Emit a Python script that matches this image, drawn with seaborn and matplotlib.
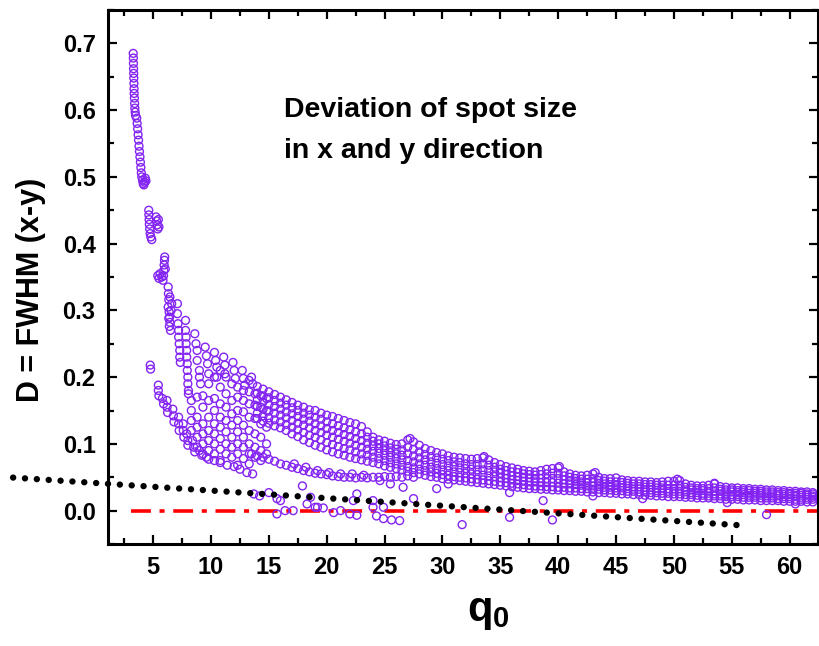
import numpy as np
import pandas as pd
import matplotlib
matplotlib.use('Agg')
import matplotlib.pyplot as plt
import seaborn as sns

# steep branch at small q0 (stepped clusters)
steep_x = [3.28, 3.29, 3.30, 3.31, 3.32, 3.33, 3.34, 3.35, 3.36, 3.38, 3.40, 3.42, 3.45, 3.48,
           3.58, 3.62, 3.66, 3.70, 3.74, 3.78, 3.82, 3.86, 3.90, 3.94, 3.98, 4.02, 4.08, 4.14, 4.20, 4.26, 4.32, 4.38,
           4.62, 4.63, 4.65, 4.67, 4.70, 4.74, 4.80, 4.88, 5.25, 5.30, 5.35, 5.40, 5.45, 5.50,
           5.40, 5.50, 5.60, 5.75, 5.85, 5.90, 5.92, 5.95, 5.98, 6.00, 6.05,
           6.30, 6.32, 6.35, 6.30, 6.38, 6.42, 6.45, 6.40, 6.50, 6.55, 6.60, 6.35, 6.45,
           7.10, 7.10, 7.15, 7.20, 7.20, 7.25, 7.30, 7.30, 7.35,
           7.80, 7.80, 7.85, 7.85, 7.90, 7.90, 7.95, 7.95, 8.00, 8.00, 8.05, 8.05]
steep_y = [0.685, 0.678, 0.670, 0.662, 0.655, 0.648, 0.640, 0.632, 0.625, 0.618, 0.610, 0.603, 0.597, 0.592,
           0.588, 0.580, 0.572, 0.563, 0.555, 0.546, 0.538, 0.530, 0.522, 0.514, 0.506, 0.500, 0.495, 0.490, 0.488, 0.492, 0.498, 0.494,
           0.450, 0.443, 0.436, 0.429, 0.422, 0.415, 0.410, 0.406, 0.440, 0.434, 0.428, 0.422, 0.436, 0.425,
           0.352, 0.348, 0.355, 0.350, 0.345, 0.352, 0.360, 0.368, 0.375, 0.380, 0.362,
           0.335, 0.325, 0.316, 0.305, 0.298, 0.290, 0.282, 0.276, 0.270, 0.300, 0.310, 0.288, 0.320,
           0.310, 0.295, 0.280, 0.270, 0.260, 0.250, 0.240, 0.230, 0.222,
           0.285, 0.270, 0.260, 0.250, 0.240, 0.230, 0.220, 0.210, 0.200, 0.190, 0.180, 0.175]

# upper envelope 8.5 < q0 < 14
upper_x = [8.6, 8.7, 8.8, 8.8, 9.0, 9.0, 9.1, 9.5, 9.6, 9.7, 9.8, 10.3, 10.4, 10.5, 10.5,
           11.1, 11.2, 11.2, 11.9, 12.0, 12.1, 12.7, 12.8, 12.9, 13.3, 13.5, 13.6]
upper_y = [0.265, 0.250, 0.240, 0.225, 0.210, 0.200, 0.190, 0.245, 0.232, 0.220, 0.205, 0.237, 0.225, 0.215, 0.200,
           0.230, 0.218, 0.205, 0.222, 0.210, 0.198, 0.210, 0.198, 0.188, 0.195, 0.200, 0.190]

# lower branch starting near q0 = 4.7
lowbr_x = [4.75, 4.78, 5.45, 5.45, 5.50, 5.80, 5.90, 6.20, 6.20, 6.25, 6.70, 6.75, 6.80, 7.20, 7.20, 7.25,
           7.60, 7.60, 7.65, 7.90, 8.00, 8.00, 8.40, 8.50, 8.60, 9.00, 9.20, 9.60, 9.80, 10.3, 10.8,
           11.4, 12.0, 12.5, 13.1, 13.6]
lowbr_y = [0.218, 0.212, 0.188, 0.180, 0.172, 0.168, 0.160, 0.165, 0.155, 0.147, 0.152, 0.142, 0.133, 0.140, 0.130, 0.120,
           0.130, 0.120, 0.110, 0.115, 0.105, 0.098, 0.105, 0.095, 0.088, 0.090, 0.083, 0.080, 0.077, 0.075, 0.072,
           0.068, 0.066, 0.062, 0.057, 0.055]

# filled middle region 8 < q0 < 15
mid_cols_x = [8.3, 8.8, 9.3, 9.8, 10.3, 10.8, 11.3, 11.8, 12.3, 12.8, 13.3, 13.8, 14.3, 14.8]
mid_cols_y = [[0.165, 0.150, 0.135, 0.120],
              [0.170, 0.140, 0.125, 0.110, 0.095],
              [0.172, 0.155, 0.130, 0.115, 0.100, 0.085],
              [0.190, 0.165, 0.140, 0.120, 0.105, 0.090],
              [0.200, 0.168, 0.150, 0.130, 0.115, 0.100, 0.085],
              [0.210, 0.185, 0.160, 0.140, 0.125, 0.108, 0.092, 0.075],
              [0.200, 0.175, 0.155, 0.135, 0.118, 0.100, 0.085],
              [0.190, 0.165, 0.145, 0.128, 0.110, 0.095, 0.080],
              [0.185, 0.170, 0.150, 0.135, 0.118, 0.100, 0.085, 0.068],
              [0.180, 0.165, 0.148, 0.128, 0.110, 0.095, 0.078],
              [0.178, 0.160, 0.140, 0.120, 0.100, 0.085, 0.070],
              [0.175, 0.158, 0.138, 0.115, 0.095, 0.080],
              [0.172, 0.155, 0.130, 0.110, 0.090, 0.075],
              [0.168, 0.150, 0.125, 0.100, 0.085]]

# main band q0 >= 14
band_x = [14.0, 14.5, 15.0, 15.5, 16.0, 16.5, 17.0, 17.5, 18.0, 18.5, 19.0, 19.5, 20.0, 20.5,
          21.0, 21.5, 22.0, 22.5, 23.0, 23.5, 24.0, 24.5, 25.0, 25.5, 26.0, 26.5, 27.0, 27.5,
          28.0, 28.5, 29.0, 29.5, 30.0, 30.5, 31.0, 31.5, 32.0, 32.5, 33.0, 33.5, 34.0, 34.5,
          35.0, 35.5, 36.0, 36.5, 37.0, 37.5, 38.0, 38.5, 39.0, 39.5, 40.0, 40.5, 41.0, 41.5,
          42.0, 42.5, 43.0, 43.5, 44.0, 44.5, 45.0, 45.5, 46.0, 46.5, 47.0, 47.5, 48.0, 48.5,
          49.0, 49.5, 50.0, 50.5, 51.0, 51.5, 52.0, 52.5, 53.0, 53.5, 54.0, 54.5, 55.0, 55.5,
          56.0, 56.5, 57.0, 57.5, 58.0, 58.5, 59.0, 59.5, 60.0, 60.5, 61.0, 61.5, 62.0]
band_y = [[0.186, 0.176, 0.166, 0.156, 0.146, 0.138],
          [0.182, 0.172, 0.163, 0.152, 0.142, 0.134],
          [0.178, 0.169, 0.159, 0.149, 0.139, 0.131],
          [0.174, 0.165, 0.156, 0.146, 0.136, 0.127],
          [0.170, 0.161, 0.152, 0.143, 0.133, 0.124],
          [0.166, 0.158, 0.148, 0.139, 0.129, 0.120],
          [0.162, 0.154, 0.145, 0.135, 0.125, 0.115],
          [0.158, 0.150, 0.141, 0.131, 0.121, 0.111],
          [0.155, 0.146, 0.137, 0.128, 0.117, 0.106],
          [0.151, 0.143, 0.134, 0.124, 0.113, 0.102],
          [0.150, 0.140, 0.130, 0.120, 0.110, 0.098],
          [0.146, 0.137, 0.127, 0.117, 0.106, 0.095],
          [0.143, 0.133, 0.123, 0.113, 0.102, 0.091],
          [0.141, 0.130, 0.120, 0.110, 0.099, 0.088],
          [0.138, 0.127, 0.117, 0.107, 0.096, 0.085],
          [0.135, 0.124, 0.114, 0.104, 0.093, 0.083],
          [0.132, 0.121, 0.111, 0.101, 0.091, 0.080],
          [0.130, 0.118, 0.108, 0.098, 0.088, 0.078],
          [0.126, 0.115, 0.105, 0.095, 0.085, 0.076],
          [0.118, 0.110, 0.101, 0.092, 0.083, 0.074],
          [0.110, 0.104, 0.097, 0.089, 0.080, 0.072],
          [0.106, 0.100, 0.093, 0.086, 0.078, 0.070],
          [0.104, 0.097, 0.090, 0.083, 0.075, 0.067],
          [0.101, 0.094, 0.087, 0.080, 0.072, 0.065],
          [0.099, 0.092, 0.085, 0.078, 0.070, 0.063],
          [0.100, 0.091, 0.083, 0.076, 0.068, 0.061],
          [0.106, 0.095, 0.085, 0.075, 0.066, 0.059],
          [0.103, 0.092, 0.082, 0.073, 0.064, 0.057],
          [0.098, 0.088, 0.079, 0.070, 0.062, 0.055],
          [0.093, 0.084, 0.076, 0.068, 0.060, 0.053],
          [0.090, 0.081, 0.073, 0.065, 0.058, 0.051],
          [0.087, 0.079, 0.071, 0.063, 0.056, 0.050],
          [0.085, 0.077, 0.069, 0.061, 0.054, 0.048],
          [0.082, 0.075, 0.067, 0.060, 0.053, 0.047],
          [0.080, 0.073, 0.066, 0.058, 0.051, 0.046],
          [0.079, 0.072, 0.064, 0.057, 0.050, 0.045],
          [0.078, 0.070, 0.063, 0.056, 0.049, 0.044],
          [0.077, 0.069, 0.062, 0.055, 0.048, 0.043],
          [0.078, 0.069, 0.061, 0.054, 0.047, 0.042],
          [0.079, 0.070, 0.061, 0.053, 0.046, 0.041],
          [0.076, 0.068, 0.060, 0.052, 0.045, 0.040],
          [0.072, 0.065, 0.058, 0.051, 0.044, 0.039],
          [0.069, 0.062, 0.056, 0.049, 0.043, 0.038],
          [0.066, 0.060, 0.054, 0.048, 0.042, 0.037],
          [0.064, 0.058, 0.052, 0.046, 0.041, 0.036],
          [0.062, 0.057, 0.051, 0.045, 0.040, 0.035],
          [0.060, 0.055, 0.050, 0.044, 0.039, 0.034],
          [0.059, 0.054, 0.049, 0.043, 0.038, 0.033],
          [0.058, 0.053, 0.048, 0.043, 0.037, 0.033],
          [0.060, 0.054, 0.048, 0.042, 0.037, 0.032],
          [0.062, 0.055, 0.048, 0.042, 0.036, 0.032],
          [0.063, 0.056, 0.048, 0.042, 0.036, 0.031],
          [0.064, 0.056, 0.048, 0.041, 0.035, 0.031],
          [0.058, 0.052, 0.046, 0.040, 0.035, 0.030],
          [0.055, 0.050, 0.045, 0.040, 0.034, 0.030],
          [0.053, 0.048, 0.044, 0.039, 0.034, 0.029],
          [0.052, 0.047, 0.043, 0.038, 0.033, 0.029],
          [0.053, 0.047, 0.042, 0.037, 0.033, 0.028],
          [0.055, 0.048, 0.042, 0.037, 0.032, 0.028],
          [0.050, 0.045, 0.041, 0.036, 0.032, 0.027],
          [0.048, 0.044, 0.040, 0.035, 0.031, 0.027],
          [0.048, 0.043, 0.039, 0.035, 0.031, 0.026],
          [0.049, 0.043, 0.039, 0.034, 0.030, 0.026],
          [0.046, 0.042, 0.038, 0.034, 0.030, 0.025],
          [0.045, 0.041, 0.037, 0.033, 0.029, 0.025],
          [0.044, 0.040, 0.036, 0.032, 0.029, 0.024],
          [0.044, 0.040, 0.036, 0.032, 0.028, 0.024],
          [0.043, 0.039, 0.035, 0.031, 0.028, 0.023],
          [0.043, 0.039, 0.035, 0.031, 0.027, 0.023],
          [0.042, 0.038, 0.034, 0.030, 0.027, 0.022],
          [0.043, 0.038, 0.034, 0.030, 0.026, 0.022],
          [0.044, 0.038, 0.033, 0.029, 0.026, 0.021],
          [0.044, 0.038, 0.033, 0.029, 0.025, 0.021],
          [0.045, 0.038, 0.033, 0.029, 0.025, 0.021],
          [0.040, 0.035, 0.031, 0.028, 0.024, 0.020],
          [0.038, 0.034, 0.031, 0.027, 0.024, 0.020],
          [0.037, 0.033, 0.030, 0.027, 0.023, 0.019],
          [0.037, 0.033, 0.030, 0.026, 0.023, 0.019],
          [0.038, 0.033, 0.029, 0.026, 0.022, 0.019],
          [0.040, 0.034, 0.029, 0.025, 0.022, 0.018],
          [0.036, 0.032, 0.029, 0.025, 0.022, 0.018],
          [0.035, 0.031, 0.028, 0.025, 0.021, 0.017],
          [0.034, 0.031, 0.028, 0.024, 0.021, 0.017],
          [0.034, 0.030, 0.027, 0.024, 0.021, 0.017],
          [0.033, 0.030, 0.027, 0.024, 0.020, 0.016],
          [0.033, 0.030, 0.026, 0.023, 0.020, 0.016],
          [0.032, 0.029, 0.026, 0.023, 0.020, 0.016],
          [0.032, 0.029, 0.026, 0.023, 0.019, 0.015],
          [0.031, 0.028, 0.025, 0.022, 0.019, 0.015],
          [0.031, 0.028, 0.025, 0.022, 0.019, 0.015],
          [0.030, 0.027, 0.024, 0.022, 0.018, 0.015],
          [0.030, 0.027, 0.024, 0.021, 0.018, 0.014],
          [0.029, 0.026, 0.024, 0.021, 0.018, 0.014],
          [0.029, 0.026, 0.023, 0.021, 0.017, 0.014],
          [0.028, 0.026, 0.023, 0.020, 0.017, 0.014],
          [0.028, 0.025, 0.023, 0.020, 0.017, 0.013],
          [0.027, 0.025, 0.022, 0.020, 0.017, 0.013]]

# lower arc under the band
arc_x = [13.5, 14.0, 14.5, 15.0, 15.5, 16.0, 16.5, 17.0, 17.5, 18.0, 18.5, 19.0, 19.5, 20.0,
         20.5, 21.0, 21.5, 22.0, 22.5, 23.0, 23.5, 24.0, 24.5, 25.0, 25.5, 26.0, 26.5, 27.0, 27.5,
         17.2, 18.2, 19.2, 20.2, 21.2, 22.2, 23.2, 24.6, 25.5, 26.6, 29.5, 30.5]
arc_y = [0.085, 0.082, 0.080, 0.077, 0.074, 0.070, 0.068, 0.065, 0.063, 0.060, 0.058, 0.056, 0.055, 0.054,
         0.052, 0.051, 0.050, 0.050, 0.049, 0.050, 0.049, 0.050, 0.050, 0.051, 0.050, 0.051, 0.050, 0.052, 0.050,
         0.070, 0.065, 0.060, 0.057, 0.055, 0.055, 0.053, 0.045, 0.040, 0.035, 0.033, 0.040]

# points near D = 0
zero_x = [13.7, 14.2, 15.0, 15.7, 16.0, 15.7, 16.4, 17.1, 17.9, 18.3, 18.6, 19.0, 19.2, 19.7,
          20.6, 21.2, 22.0, 22.3, 22.6, 22.6, 24.0, 24.0, 24.3, 24.9, 24.9, 25.6, 26.3, 27.5,
          31.7, 35.8, 39.5, 58.0]
zero_y = [0.025, 0.022, 0.027, 0.018, 0.015, -0.005, 0.000, 0.000, 0.037, 0.010, 0.020, 0.005, 0.005, 0.004,
          -0.003, 0.000, -0.005, 0.015, -0.007, 0.025, 0.005, 0.015, -0.008, -0.012, 0.005, -0.014, -0.015, 0.018,
          -0.021, -0.010, -0.014, -0.006]

# scattered outliers around the band
out_x = [27.2, 33.6, 40.1, 43.2, 50.3, 53.5, 35.8, 38.7, 43.0, 47.3, 54.6, 60.5]
out_y = [0.108, 0.081, 0.066, 0.057, 0.047, 0.041, 0.027, 0.015, 0.022, 0.018, 0.012, 0.010]

dot_x = [-7.1, 56.2]
dot_y = [0.0495, -0.0225]
zero_line_x = [3.1, 62.45]
zero_line_y = [0.0, 0.0]

xs = steep_x + upper_x + lowbr_x + arc_x + zero_x + out_x
ys = steep_y + upper_y + lowbr_y + arc_y + zero_y + out_y
for cx, cy in zip(mid_cols_x, mid_cols_y):
    xs += [cx] * len(cy)
    ys += cy
for cx, cy in zip(band_x, band_y):
    xs += [cx] * len(cy)
    ys += cy
df = pd.DataFrame({'q0': xs, 'D': ys})

sns.set_style('ticks')
plt.rcParams['font.family'] = ['Liberation Sans', 'DejaVu Sans']
plt.rcParams['font.weight'] = 'bold'
plt.rcParams['mathtext.fontset'] = 'custom'
plt.rcParams['mathtext.bf'] = 'Liberation Sans:bold'
plt.rcParams['mathtext.rm'] = 'Liberation Sans:bold'
for key in ['text.color', 'axes.labelcolor', 'xtick.color', 'ytick.color', 'axes.edgecolor']:
    plt.rcParams[key] = 'black'

fig = plt.figure(figsize=(8.19, 6.46), dpi=100)
ax = fig.add_axes([108 / 819, 1 - 544 / 646, 710 / 819, 534 / 646])

ax.plot(zero_line_x, zero_line_y, color='red', lw=2.6, dashes=(5.5, 2.4, 1.4, 2.4), zorder=1)
sns.scatterplot(data=df, x='q0', y='D', ax=ax, marker='o', s=32, facecolors='none',
                edgecolor='#8424F2', linewidth=1.0, zorder=2)
ax.plot(dot_x, dot_y, color='black', lw=4.6, dashes=(0.01, 1.85), dash_capstyle='round',
        clip_on=False, zorder=3)

ax.set_xlim(1.1, 62.45)
ax.set_ylim(-0.05, 0.75)
ax.set_xticks(np.arange(5, 61, 5))
ax.set_xticks(np.arange(2.5, 62.5, 5), minor=True)
ax.set_yticks(np.arange(0, 0.71, 0.1))
ax.set_yticks(np.arange(-0.05, 0.76, 0.1), minor=True)
ax.set_yticklabels([f'{v:.1f}' for v in np.arange(0, 0.71, 0.1)])
ax.tick_params(which='both', direction='in', top=True, right=True, width=1.6,
               labelsize=17, pad=9, colors='black')
ax.tick_params(which='major', length=6.5)
ax.tick_params(which='minor', length=4)
for lab in ax.get_xticklabels() + ax.get_yticklabels():
    lab.set_fontweight('bold')
for sp in ax.spines.values():
    sp.set_linewidth(2.2)
    sp.set_color('black')
    sp.set_visible(True)

ax.set_xlabel('')
ax.set_ylabel('')
fig.text(31 / 819, 1 - 290 / 646, 'D = FWHM (x-y)', rotation=90, ha='center', va='center',
         fontsize=22, fontweight='bold', color='black')
fig.text(488 / 819, 1 - 612 / 646, r'$\mathbf{q_0}$', ha='center', va='center', fontsize=30,
         color='black')

ax.text(16.3, 0.589, 'Deviation of spot size', fontsize=20.5, fontweight='bold', va='baseline')
ax.text(16.3, 0.528, 'in x and y direction', fontsize=20.5, fontweight='bold', va='baseline')

fig.savefig('out.png', dpi=100)
